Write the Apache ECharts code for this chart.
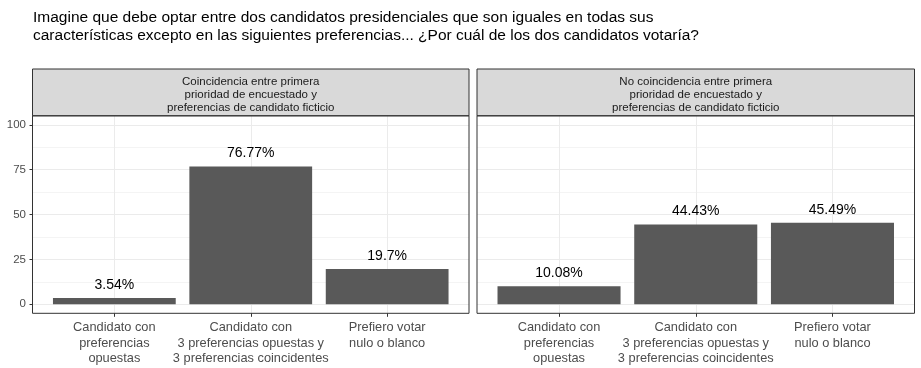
<!DOCTYPE html>
<html><head><meta charset="utf-8">
<script src="https://cdn.jsdelivr.net/npm/echarts@6/dist/echarts.min.js"></script>
<style>html,body{margin:0;padding:0;background:#fff}#c{width:921px;height:368px}</style>
</head><body><div id="c"></div>
<script>
// ---- data ----
const titleText = "Imagine que debe optar entre dos candidatos presidenciales que son iguales en todas sus\ncaracterísticas excepto en las siguientes preferencias... ¿Por cuál de los dos candidatos votaría?";
const facets = [
  "Coincidencia entre primera\nprioridad de encuestado y\npreferencias de candidato ficticio",
  "No coincidencia entre primera\nprioridad de encuestado y\npreferencias de candidato ficticio"
];
const categories = [
  "Candidato con\npreferencias\nopuestas",
  "Candidato con\n3 preferencias opuestas y\n3 preferencias coincidentes",
  "Prefiero votar\nnulo o blanco"
];
const valuesCoincidencia = [3.54, 76.77, 19.7];
const valuesNoCoincidencia = [10.08, 44.43, 45.49];
const yTicks = [0, 25, 50, 75, 100];

// ---- layout ----
const FONT = "'Liberation Sans', Arial, sans-serif";
const panels = [{left: 32.5, width: 436.5}, {left: 477, width: 437.5}];
const panelTop = 115.8, panelBottom = 313.3, stripTop = 69;
const yMinPad = -5, yMaxPad = 105;
const panelH = panelBottom - panelTop;
const pxPerUnit = panelH / (yMaxPad - yMinPad);
const y100 = panelTop + (yMaxPad - yTicks[yTicks.length - 1]) * pxPerUnit;
const y0 = panelBottom - (yTicks[0] - yMinPad) * pxPerUnit;
const seriesValues = [valuesCoincidencia, valuesNoCoincidencia];

const grid = [], xAxis = [], yAxis = [], series = [], graphic = [];
panels.forEach((p, i) => {
  const unit = p.width / (categories.length + 0.2);
  // border grid
  let gi = grid.length;
  grid.push({left: p.left, width: p.width, top: panelTop, height: panelH, show: true,
    borderColor: '#333333', borderWidth: 1, backgroundColor: 'transparent', z: 10});
  xAxis.push({gridIndex: gi, type: 'value', show: false});
  yAxis.push({gridIndex: gi, type: 'value', show: false});
  // horizontal lines + y labels
  gi = grid.length;
  grid.push({left: p.left, width: p.width, top: y100, height: y0 - y100});
  xAxis.push({gridIndex: gi, type: 'value', show: false});
  yAxis.push({gridIndex: gi, type: 'value', min: yTicks[0], max: yTicks[yTicks.length - 1], interval: 25,
    axisLine: {show: false},
    axisTick: {show: i === 0, length: 3, lineStyle: {color: '#333333'}},
    axisLabel: {show: i === 0, margin: 6.5, color: '#4d4d4d', fontSize: 11.5, fontFamily: FONT},
    splitLine: {show: true, lineStyle: {color: '#ebebeb', width: 1}},
    minorTick: {show: false, splitNumber: 2},
    minorSplitLine: {show: true, lineStyle: {color: '#f4f4f4', width: 1}}
  });
  // vertical lines + x labels (category points)
  gi = grid.length;
  grid.push({left: p.left + 0.6 * unit, width: (categories.length - 1) * unit, top: panelTop, height: panelH});
  xAxis.push({gridIndex: gi, type: 'category', data: categories, boundaryGap: false,
    axisLine: {show: false},
    axisTick: {show: true, length: 3.5, lineStyle: {color: '#333333'}},
    axisLabel: {color: '#4d4d4d', fontSize: 12.8, lineHeight: 15.5, margin: 6.5, fontFamily: FONT, interval: 0},
    splitLine: {show: true, lineStyle: {color: '#ebebeb', width: 1}}
  });
  yAxis.push({gridIndex: gi, type: 'value', show: false});
  // bars
  gi = grid.length;
  grid.push({left: p.left + 0.1 * unit, width: categories.length * unit, top: panelTop, height: panelH});
  xAxis.push({gridIndex: gi, type: 'category', data: categories, show: false});
  yAxis.push({gridIndex: gi, type: 'value', min: yMinPad, max: yMaxPad, show: false, splitLine: {show: false}});
  series.push({type: 'bar', xAxisIndex: gi, yAxisIndex: gi, data: seriesValues[i], barCategoryGap: '10%',
    itemStyle: {color: '#595959'}, z: 3,
    label: {show: true, position: 'top', distance: 6, color: '#000000', fontSize: 14, fontFamily: FONT,
      formatter: d => d.value + '%'}
  });
  // strip
  graphic.push({type: 'rect', shape: {x: p.left, y: stripTop, width: p.width, height: panelTop - stripTop},
    style: {fill: '#d9d9d9', stroke: '#333333', lineWidth: 1}, z: 5});
  graphic.push({type: 'text', x: p.left + p.width / 2, y: (stripTop + panelTop) / 2 + 2,
    style: {text: facets[i], textAlign: 'center', textVerticalAlign: 'middle', fill: '#1a1a1a',
      fontSize: 11.5, lineHeight: 13, fontFamily: FONT}, z: 6});
});

const chart = echarts.init(document.getElementById('c'), null, {renderer: 'canvas'});
chart.setOption({
  animation: false,
  backgroundColor: '#ffffff',
  title: {text: titleText, left: 28, top: 4,
    textStyle: {fontSize: 15.5, lineHeight: 18, fontWeight: 'normal', color: '#000000', fontFamily: FONT}},
  grid, xAxis, yAxis, series, graphic
});
</script></body></html>
